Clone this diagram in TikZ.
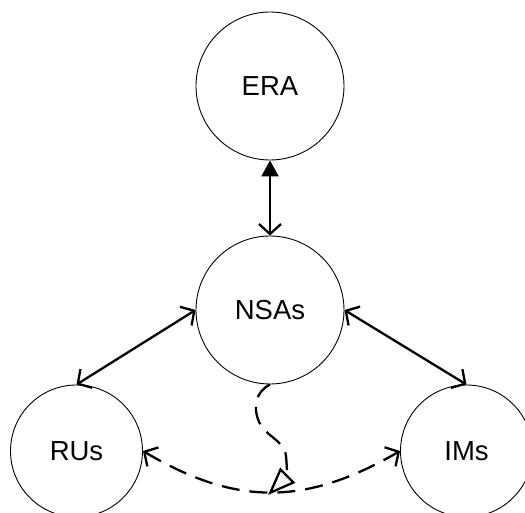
\documentclass[tikz,border=0pt]{standalone}
\usepackage{fontspec}
\setmainfont{Liberation Sans}
\usetikzlibrary{arrows.meta}
\begin{document}
\begin{tikzpicture}[x=1pt,y=-1pt,
  actor/.style={draw=black,line width=0.9pt,circle,inner sep=0pt,minimum size=148pt,
    font=\fontsize{27.5}{32}\selectfont},
  actorsm/.style={actor,minimum size=132pt},
  link/.style={line width=2.3pt,line cap=round},
  barbtip/.tip={Straight Barb[length=10pt,width=22pt,line width=2.3pt]},
  filltip/.tip={Triangle[length=16pt,width=17pt]},
  opentip/.tip={Triangle[open,length=28pt,width=21pt,line width=2.3pt]},
  flow/.style={line width=2.3pt,dash pattern=on 18pt off 10pt}
]
\useasboundingbox (0,0) rectangle (525,513);
\node[actor] (era) at (270,86) {ERA};
\node[actor] (nsa) at (270,310) {NSAs};
\node[actorsm] (ru) at (76.5,451) {RUs};
\node[actorsm] (im) at (466.5,451) {IMs};
\coordinate (tip) at (268,495);
\draw[link,filltip-barbtip] (era.south) -- (nsa.north);
\draw[link,barbtip-barbtip] (nsa.west) -- (ru.north);
\draw[link,barbtip-barbtip] (nsa.east) -- (im.north);
\draw[flow,barbtip-barbtip] (ru.east) .. controls (236,506) and (305,506) .. (im.west);
\draw[flow,-opentip]
  (nsa.south) .. controls (255,392) and (253,408) .. (259,422)
  .. controls (265,436) and (284,440) .. (286,456)
  .. controls (287,466) and (287,476) .. (tip);
\end{tikzpicture}
\end{document}
